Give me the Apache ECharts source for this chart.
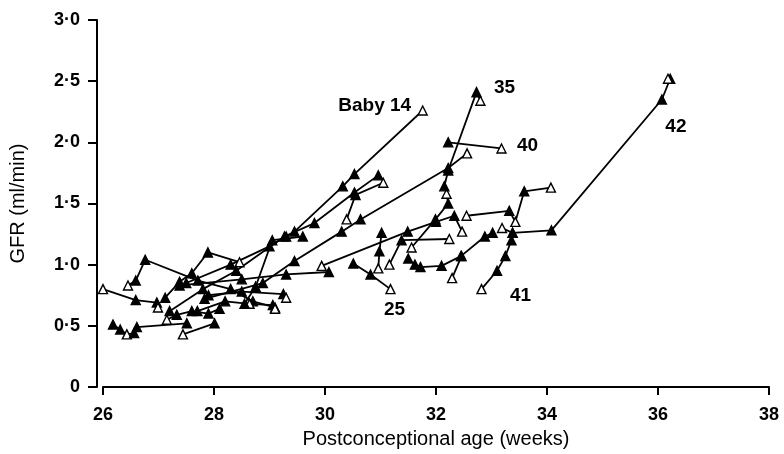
<!DOCTYPE html>
<html>
<head>
<meta charset="utf-8">
<title>GFR vs postconceptional age</title>
<script src="https://cdn.jsdelivr.net/npm/echarts@6.0.0/dist/echarts.min.js"></script>
<style>
  html, body { margin: 0; padding: 0; background: #fff; }
  #chart { width: 784px; height: 454px; }
</style>
</head>
<body>
<div id="chart"></div>
<script>
// each point: [postconceptional age (weeks), GFR (ml/min), open marker 1/0]
var baby14 = [[27.5,0.85,0],[28.3,1.0,0],[29.0,1.15,0],[29.3,1.23,0],[29.45,1.27,0],[30.32,1.64,0],[30.53,1.74,0],[31.76,2.26,1]];
var baby25 = [[30.51,1.01,0],[30.82,0.92,0],[31.18,0.80,1]];
var baby35 = [[31.56,1.14,1],[31.99,1.37,0],[32.22,1.50,0],[32.19,1.58,1],[32.15,1.64,0],[32.22,1.77,0],[32.73,2.41,0],[32.80,2.34,1]];
var baby40 = [[32.22,2.0,0],[33.18,1.95,1]];
var baby41 = [[32.82,0.80,1],[33.1,0.95,0],[33.25,1.07,0],[33.36,1.20,0],[33.38,1.26,0]];
var baby42 = [[33.19,1.30,1],[33.38,1.26,0],[34.08,1.28,0],[36.07,2.35,0],[36.22,2.52,0],[36.18,2.52,1]];

var b01 = [[26.18,0.51,0],[26.31,0.47,0],[26.43,0.43,1],[26.56,0.44,0],[26.61,0.49,0],[27.51,0.52,0]];
var b02 = [[26.0,0.80,1],[26.59,0.71,0],[26.97,0.69,0],[26.99,0.65,1]];
var b03 = [[26.45,0.83,1],[26.59,0.87,0],[26.76,1.04,0],[27.71,0.87,0],[28.3,0.80,0],[28.7,0.70,0],[29.1,0.65,1]];
var b04 = [[27.12,0.73,0],[27.38,0.86,0],[27.6,0.93,0],[27.89,1.10,0],[28.46,1.02,1]];
var b05 = [[27.83,0.72,0],[28.88,0.85,0],[29.45,1.03,0],[30.3,1.27,0],[30.64,1.37,0],[32.22,1.79,0],[32.56,1.91,1]];
var b06 = [[27.2,0.62,0],[27.8,0.80,0],[28.4,0.95,0],[29.27,1.23,0],[29.81,1.34,0],[30.53,1.59,0],[30.96,1.73,0]];
var b07 = [[30.39,1.37,1],[30.55,1.57,0],[31.05,1.67,1]];
var b08 = [[29.94,0.99,1],[31.49,1.27,0],[32.0,1.35,0],[32.33,1.40,0],[32.47,1.27,1]];
var b09 = [[32.55,1.40,1],[33.32,1.44,0],[33.43,1.35,1],[33.59,1.60,0],[34.07,1.63,1]];
var b10 = [[31.16,1.0,1],[31.38,1.2,0],[32.24,1.21,1]];
var b11 = [[31.5,1.05,0],[31.62,1.0,0],[31.72,0.98,0],[32.1,0.99,0],[32.45,1.07,0],[32.88,1.23,0],[33.02,1.26,0]];
var b12 = [[32.29,0.89,1],[32.46,1.07,0]];
var b13 = [[30.96,0.97,1],[30.98,1.11,0],[31.02,1.26,0]];
var b15 = [[27.38,0.83,0],[28.5,0.88,0],[29.3,0.92,0],[30.07,0.94,0]];
var b16 = [[27.44,0.43,1],[28.01,0.52,0]];
var b17 = [[27.15,0.55,1],[27.33,0.59,0],[27.6,0.62,0],[27.9,0.60,0],[28.1,0.64,0]];
var b18 = [[27.7,0.62,0],[28.2,0.70,0],[28.64,0.68,1],[29.06,0.67,0],[29.1,0.64,1]];
var b19 = [[27.9,0.75,0],[28.5,0.78,0],[29.25,0.76,0],[29.3,0.73,1]];
var b20 = [[28.55,0.68,0],[28.75,0.82,0],[29.05,1.2,0],[29.6,1.23,0]];

var ageTicks = [26, 28, 30, 32, 34, 36, 38];
var gfrTicks = [0, 0.5, 1, 1.5, 2, 2.5, 3];

var babyList = [
  ['b01', b01], ['b02', b02], ['b03', b03], ['b04', b04], ['b05', b05],
  ['b06', b06], ['b07', b07], ['b08', b08], ['b09', b09], ['b10', b10],
  ['b11', b11], ['b12', b12], ['b13', b13], ['b15', b15], ['b16', b16],
  ['b17', b17], ['b18', b18], ['b19', b19], ['b20', b20],
  ['baby14', baby14], ['baby25', baby25], ['baby35', baby35],
  ['baby40', baby40], ['baby41', baby41], ['baby42', baby42]
];

// which point of a named baby carries its tag, and where the text sits
var tags = [
  { name: 'baby14', at: 7, text: 'Baby 14', offset: [-48, -5] },
  { name: 'baby35', at: 6, text: '35', offset: [28, -4] },
  { name: 'baby40', at: 1, text: '40', offset: [26, -3] },
  { name: 'baby42', at: 3, text: '42', offset: [14, 27] },
  { name: 'baby41', at: 0, text: '41', offset: [39, 7] },
  { name: 'baby25', at: 2, text: '25', offset: [4, 21] }
];

var FONT = '"Liberation Sans", Arial, Helvetica, sans-serif';

function buildSeries(name, pts) {
  var tag = tags.filter(function (t) { return t.name === name; })[0];
  return {
    type: 'line',
    name: name,
    symbol: 'triangle',
    symbolSize: 9,
    showSymbol: true,
    animation: false,
    lineStyle: { color: '#000', width: 1.8 },
    itemStyle: { borderColor: '#000', borderWidth: 1.4 },
    data: pts.map(function (p, i) {
      var item = { value: [p[0], p[1]], itemStyle: { color: p[2] ? '#fff' : '#000' } };
      if (tag && tag.at === i) {
        item.label = {
          show: true, position: 'inside', offset: tag.offset, formatter: tag.text,
          fontSize: 19, fontWeight: 'bold', color: '#000', fontFamily: FONT
        };
      }
      return item;
    })
  };
}

var chart = echarts.init(document.getElementById('chart'));
chart.setOption({
  backgroundColor: '#fff',
  grid: { left: 103, right: 15, top: 20, bottom: 65 },
  xAxis: {
    type: 'value', min: ageTicks[0], max: ageTicks[ageTicks.length - 1], interval: 2, offset: 6,
    name: 'Postconceptional age (weeks)', nameLocation: 'middle', nameGap: 36,
    nameTextStyle: { fontSize: 20, color: '#000', fontFamily: FONT },
    axisLine: { lineStyle: { color: '#000', width: 2 } },
    axisTick: { length: 8, lineStyle: { color: '#000', width: 2 } },
    axisLabel: { margin: 13, fontSize: 18, fontWeight: 'bold', color: '#000', fontFamily: FONT },
    splitLine: { show: false }
  },
  yAxis: {
    type: 'value', min: gfrTicks[0], max: gfrTicks[gfrTicks.length - 1], interval: 0.5, offset: 6,
    name: 'GFR (ml/min)', nameLocation: 'middle', nameGap: 69,
    nameTextStyle: { fontSize: 20, color: '#000', fontFamily: FONT },
    axisLine: { show: true, lineStyle: { color: '#000', width: 2 } },
    axisTick: { show: true, length: 9, lineStyle: { color: '#000', width: 2 } },
    axisLabel: {
      margin: 17, fontSize: 18, fontWeight: 'bold', color: '#000', fontFamily: FONT,
      formatter: function (v) { return v === 0 ? '0' : v.toFixed(1).replace('.', '\u00b7'); }
    },
    splitLine: { show: false }
  },
  series: babyList.map(function (b) { return buildSeries(b[0], b[1]); })
});
</script>
</body>
</html>
